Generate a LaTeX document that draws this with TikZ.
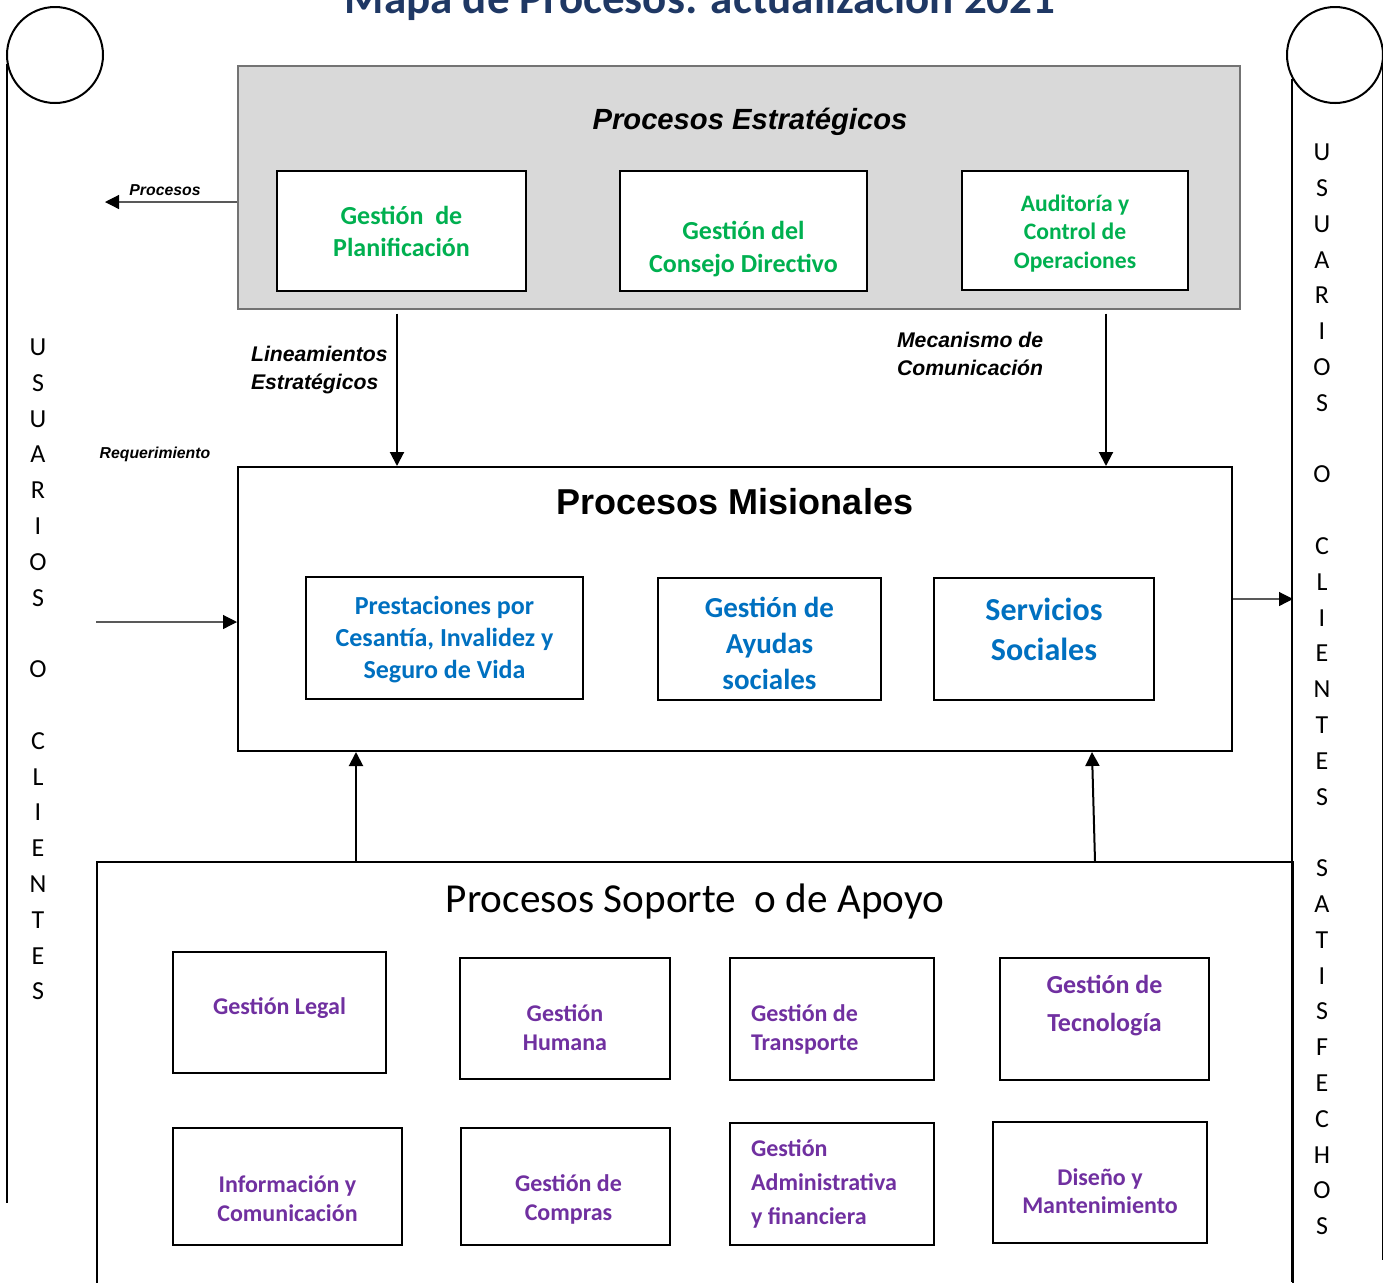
\documentclass[tikz,border=0pt]{standalone}
\usepackage{fontspec}
\setmainfont{Carlito}
\newfontfamily\arialfont{Liberation Sans}
\usetikzlibrary{positioning,arrows.meta}

\definecolor{verde}{HTML}{00B050}
\definecolor{azul}{HTML}{0070C0}
\definecolor{morado}{HTML}{7030A0}
\definecolor{marino}{HTML}{1F3864}
\definecolor{gris}{HTML}{D9D9D9}

\begin{document}
\begin{tikzpicture}[x=0.5pt,y=-0.5pt,
  caja/.style 2 args={draw,line width=1pt,rectangle,minimum width=#1,minimum height=#2,inner sep=0pt},
  gtxt/.style={text=verde,font=\bfseries\fontsize{13}{16}\selectfont,align=center},
  btxt/.style={text=azul,font=\bfseries\fontsize{13}{16}\selectfont,align=center},
  ptxt/.style={text=morado,font=\bfseries\fontsize{12}{14.5}\selectfont,align=center},
  lbl/.style={font=\arialfont\bfseries\itshape\fontsize{10.6}{14}\selectfont,align=left},
  small/.style={font=\arialfont\bfseries\itshape\fontsize{7.9}{9}\selectfont},
  vtxt/.style={font=\fontsize{13}{17.9}\selectfont,align=center,inner sep=0pt},
  arrow/.style={draw=black,line width=1pt,-{Triangle[length=7pt,width=7pt]}},
  fina/.style={draw=black!65,line width=0.6pt,-{Triangle[length=7pt,width=7pt,color=black]}}]
  \useasboundingbox (0,0) rectangle (1383,1282);

  \node[font=\bfseries\fontsize{22.5}{26}\selectfont,text=marino,anchor=base] (titulo) at (700,13) {Mapa de Procesos: actualización 2021};

  % columnas de usuarios
  \node[circle,draw,line width=1pt,minimum size=48pt,inner sep=0pt] (cirL) at (55,55) {};
  \node[circle,draw,line width=1pt,minimum size=48pt,inner sep=0pt] (cirR) at (1335,55) {};
  \coordinate (finL) at (8,1203);
  \coordinate (finR) at (0,1282);
  \coordinate (finR2) at (0,1260);
  \draw[line width=1pt] (cirL.190) -- (cirL.190 |- finL);
  \draw[line width=1pt] (cirR.209) -- (cirR.209 |- finR);
  \draw[line width=1pt] (cirR.348) -- (cirR.348 |- finR2);

  \node[vtxt] (usrL) at (38,669.5) {U\\S\\U\\A\\R\\I\\O\\S\\[17.9pt]O\\[17.9pt]C\\L\\I\\E\\N\\T\\E\\S};
  \node[vtxt] (usrR) at (1322,689.5) {U\\S\\U\\A\\R\\I\\O\\S\\[17.9pt]O\\[17.9pt]C\\L\\I\\E\\N\\T\\E\\S\\[17.9pt]S\\A\\T\\I\\S\\F\\E\\C\\H\\O\\S};

  % estrategicos
  \node[caja={501pt}{121.5pt},fill=gris,draw=black!55,line width=0.6pt] (estr) at (739,187.5) {};
  \node[font=\arialfont\bfseries\itshape\fontsize{14.6}{17}\selectfont] (estr-t) at (750,121.5) {Procesos Estratégicos};
  \node[caja={124.5pt}{60pt},fill=white,line width=0.6pt] (plan) at (401.5,231) {};
  \node[gtxt] (plan-t) at (plan) {Gestión\ \ de\\Planificación};
  \node[caja={123.5pt}{60pt},fill=white,line width=1.4pt] (cons) at (743.5,231) {};
  \node[gtxt,font=\bfseries\fontsize{13}{16.5}\selectfont] (cons-t) at ([yshift=-9pt]cons) {Gestión del\\Consejo Directivo};
  \node[caja={113pt}{59.5pt},fill=white,line width=0.6pt] (audi) at (1075,230.5) {};
  \node[gtxt,font=\bfseries\fontsize{11.8}{14.3}\selectfont] (audi-t) at ([yshift=-1.5pt]audi) {Auditoría y\\Control de\\Operaciones};

  \coordinate (fuera) at (105,202);
  \draw[fina] (estr.west |- fuera) -- (fuera);
  \node[small] (proc-l) at (165,190) {Procesos};

  % misionales
  \node[caja={497pt}{142pt}] (mis) at (735,609) {};
  \node[font=\arialfont\bfseries\fontsize{18}{21}\selectfont] (mis-t) at (735,502) {Procesos Misionales};
  \node[caja={138.5pt}{61pt}] (prest) at (444.5,638) {};
  \node[btxt] (prest-t) at ([yshift=-1pt]prest) {Prestaciones por\\Cesantía, Invalidez y\\Seguro de Vida};
  \node[caja={111.5pt}{61pt}] (ayud) at (769.5,639) {};
  \node[btxt,font=\bfseries\fontsize{14.5}{18}\selectfont] (ayud-t) at ([yshift=-2pt]ayud) {Gestión de\\Ayudas\\sociales};
  \node[caja={110pt}{61pt}] (serv) at (1044,639) {};
  \node[btxt,font=\bfseries\fontsize{16}{20}\selectfont] (serv-t) at ([yshift=5pt]serv) {Servicios\\Sociales};

  \coordinate (lin) at (397,0);
  \coordinate (mec) at (1106,0);
  \draw[arrow] ([yshift=-2pt]estr.south -| lin) -- (mis.north -| lin);
  \draw[arrow] ([yshift=-2pt]estr.south -| mec) -- (mis.north -| mec);
  \node[lbl,anchor=west] (lin-l) at (244,370) {Lineamientos\\Estratégicos};
  \node[lbl,anchor=west] (mec-l) at (890,354) {Mecanismo de\\Comunicación};

  \node[small] (req-l) at (155,454) {Requerimiento};
  \coordinate (req) at (96,622);
  \draw[fina] (req) -- (mis.west |- req);
  \coordinate (sal) at (1293,599);
  \draw[fina] (mis.east |- sal) -- (sal);

  % soporte
  \node[caja={598pt}{219pt}] (sop) at (695,1081) {};
  \node[font=\fontsize{20.6}{24}\selectfont] (sop-t) at (695,901) {Procesos Soporte\ \ o de Apoyo};
  \coordinate (ap1) at (356,0);
  \coordinate (ap2) at (1092,0);
  \draw[arrow] (sop.north -| ap1) -- (mis.south -| ap1);
  \draw[arrow] ([xshift=1.5pt]sop.north -| ap2) -- (mis.south -| ap2);

  \node[caja={106.5pt}{60.5pt}] (legal) at (279.5,1012.5) {};
  \node[ptxt] (legal-t) at ([yshift=2pt]legal) {Gestión Legal};
  \node[caja={105pt}{60.5pt}] (hum) at (565,1018.5) {};
  \node[ptxt] (hum-t) at ([yshift=-4.5pt]hum) {Gestión\\Humana};
  \node[caja={102pt}{61pt}] (trans) at (832,1019) {};
  \node[ptxt,align=left,anchor=west] (trans-t) at ([xshift=7.5pt,yshift=-5pt]trans.west) {Gestión de\\Transporte};
  \node[caja={104.5pt}{61pt}] (tec) at (1104.5,1019) {};
  \node[ptxt,font=\bfseries\fontsize{13}{19}\selectfont] (tec-t) at ([yshift=6.5pt]tec) {Gestión de\\Tecnología};

  \node[caja={114.5pt}{58.5pt}] (info) at (287.5,1186.5) {};
  \node[ptxt] (info-t) at ([yshift=-6pt]info) {Información y\\Comunicación};
  \node[caja={104.5pt}{58.5pt}] (comp) at (565.5,1186.5) {};
  \node[ptxt] (comp-t) at ([xshift=1.5pt,yshift=-6.5pt]comp) {Gestión de\\Compras};
  \node[caja={102pt}{61pt}] (adm) at (832,1184) {};
  \node[ptxt,align=left,anchor=west,font=\bfseries\fontsize{12}{17}\selectfont] (adm-t) at ([xshift=7.5pt]adm.west) {Gestión\\Administrativa\\y financiera};
  \node[caja={107pt}{60.5pt}] (dis) at (1100,1182.5) {};
  \node[ptxt,font=\bfseries\fontsize{12}{14}\selectfont] (dis-t) at ([yshift=-4.25pt]dis) {Diseño y\\Mantenimiento};
\end{tikzpicture}
\end{document}
